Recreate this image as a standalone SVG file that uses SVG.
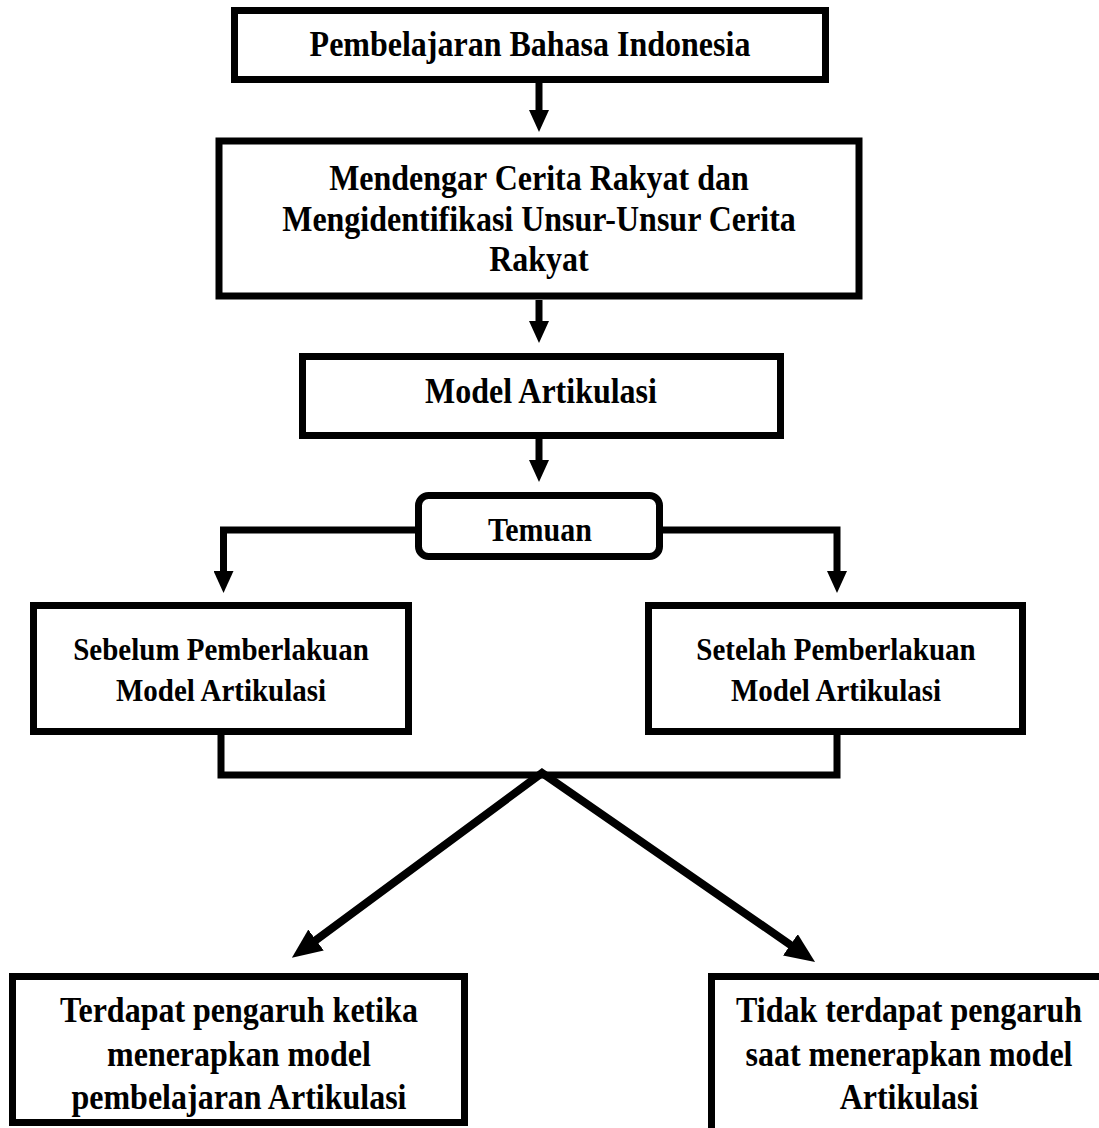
<svg xmlns="http://www.w3.org/2000/svg" width="1099" height="1128" viewBox="0 0 1099 1128">
<style>
.box{fill:#fff;stroke:#000;stroke-width:7}
.t{font-family:"Liberation Serif","Times New Roman",serif;font-weight:bold;fill:#000;text-anchor:middle}
.l{font-size:32px}
.m{font-size:29px}
.c{fill:none;stroke:#000;stroke-width:7}
.d{fill:none;stroke:#000;stroke-width:8;stroke-linejoin:miter}
</style>
<defs>
<marker id="ah" markerUnits="userSpaceOnUse" markerWidth="22" markerHeight="20" refX="4" refY="10" orient="auto">
<path d="M0,0 L22,10 L0,20 z" fill="#000"/>
</marker>
<marker id="ahl" markerUnits="userSpaceOnUse" markerWidth="30" markerHeight="26" refX="5" refY="13" orient="auto-start-reverse">
<path d="M0,0 L30,13 L0,26 z" fill="#000"/>
</marker>
</defs>
<rect width="1099" height="1128" fill="#fff"/>
<g id="connectors">
<line class="c" x1="539" y1="83" x2="539" y2="114" marker-end="url(#ah)"/>
<line class="c" x1="539" y1="300" x2="539" y2="325" marker-end="url(#ah)"/>
<line class="c" x1="539" y1="439" x2="539" y2="464" marker-end="url(#ah)"/>
<path class="c" d="M415,530 H223.5 V575" marker-end="url(#ah)"/>
<path class="c" d="M663,530 H837 V575" marker-end="url(#ah)"/>
<path class="c" d="M221,734 V775 H837 V734"/>
<path class="d" d="M312,943 L542,773 L794.5,947.7" marker-start="url(#ahl)" marker-end="url(#ahl)"/>
</g>
<g id="n1">
<rect class="box" x="234.5" y="10.5" width="591" height="69"/>
<text class="t l" x="530" y="56" transform="matrix(1,0,0,1.1,0,-5.6)">Pembelajaran Bahasa Indonesia</text>
</g>
<g id="n2">
<rect class="box" stroke-width="8" x="219" y="141" width="640" height="155"/>
<text class="t l" x="539" y="190" transform="matrix(1,0,0,1.1,0,-19)">Mendengar Cerita Rakyat dan</text>
<text class="t l" x="539" y="231" transform="matrix(1,0,0,1.1,0,-23.1)">Mengidentifikasi Unsur-Unsur Cerita</text>
<text class="t l" x="539" y="271" transform="matrix(1,0,0,1.1,0,-27.1)">Rakyat</text>
</g>
<g id="n3">
<rect class="box" x="302.5" y="356.5" width="478" height="79"/>
<text class="t l" x="541" y="403" transform="matrix(1,0,0,1.1,0,-40.3)">Model Artikulasi</text>
</g>
<g id="n4">
<rect class="box" x="418.5" y="495.5" width="241" height="61" rx="10" ry="10"/>
<text class="t" font-size="30" x="540" y="541" transform="matrix(1,0,0,1.1,0,-54.1)">Temuan</text>
</g>
<g id="n5">
<rect class="box" x="33.5" y="605.5" width="375" height="126"/>
<text class="t m" x="221" y="660" transform="matrix(1,0,0,1.1,0,-66)">Sebelum Pemberlakuan</text>
<text class="t m" x="221" y="701" transform="matrix(1,0,0,1.1,0,-70.1)">Model Artikulasi</text>
</g>
<g id="n6">
<rect class="box" x="648.5" y="605.5" width="374" height="126"/>
<text class="t m" x="836" y="660" transform="matrix(1,0,0,1.1,0,-66)">Setelah Pemberlakuan</text>
<text class="t m" x="836" y="701" transform="matrix(1,0,0,1.1,0,-70.1)">Model Artikulasi</text>
</g>
<g id="n7">
<rect class="box" x="12.5" y="976.5" width="452" height="146"/>
<text class="t l" x="239" y="1022" transform="matrix(1,0,0,1.1,0,-102.2)">Terdapat pengaruh ketika</text>
<text class="t l" x="239" y="1066" transform="matrix(1,0,0,1.1,0,-106.6)">menerapkan model</text>
<text class="t l" x="239" y="1109" transform="matrix(1,0,0,1.1,0,-110.9)">pembelajaran Artikulasi</text>
</g>
<g id="n8">
<rect class="box" x="711.5" y="976.5" width="400" height="200"/>
<text class="t l" x="909" y="1022" transform="matrix(1,0,0,1.1,0,-102.2)">Tidak terdapat pengaruh</text>
<text class="t l" x="909" y="1066" transform="matrix(1,0,0,1.1,0,-106.6)">saat menerapkan model</text>
<text class="t l" x="909" y="1109" transform="matrix(1,0,0,1.1,0,-110.9)">Artikulasi</text>
</g>
</svg>
